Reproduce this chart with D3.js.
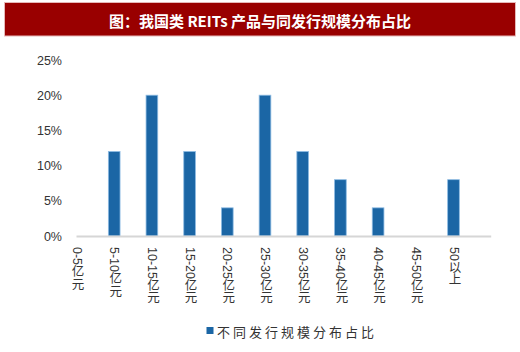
<!DOCTYPE html>
<html>
<head>
<meta charset="utf-8">
<script src="https://cdn.jsdelivr.net/npm/d3@7"></script>
<style>
  body { margin: 0; background: #fff; }
  svg { display: block; }
</style>
</head>
<body>
<svg></svg>
<script>
// chart data
const categories = ['0-5亿元', '5-10亿元', '10-15亿元', '15-20亿元', '20-25亿元', '25-30亿元',
    '30-35亿元', '35-40亿元', '40-45亿元', '45-50亿元', '50以上']
const shares = [0, 12, 20, 12, 4, 20, 12, 8, 4, 0, 8]
const yTicks = [0, 5, 10, 15, 20, 25]
const seriesName = '不同发行规模分布占比'
const titleText = '图：我国类 REITs 产品与同发行规模分布占比'

// Canvas setup
let width = 520
let height = 352
let svg = d3.select('svg')
    .attr('width', width)
    .attr('height', height)

let font = 'Liberation Sans, Arial, "Noto Sans CJK SC", sans-serif'

// Title banner
svg.append('rect')
    .attr('x', 4.5)
    .attr('y', 2.5)
    .attr('width', 511)
    .attr('height', 33.5)
    .attr('fill', '#990000')
    .attr('stroke', '#e6b8b8')
    .attr('stroke-width', 1)

svg.append('text')
    .attr('x', 260)
    .attr('y', 20)
    .attr('text-anchor', 'middle')
    .attr('dominant-baseline', 'central')
    .attr('fill', '#fff')
    .attr('font-family', '"Noto Sans CJK SC", sans-serif')
    .attr('font-weight', 'bold')
    .attr('font-size', 15)
    .text(titleText)

// Define scales
let step = 37.7
let firstCenter = 76.5
let xScale = d3.scaleBand()
    .domain(categories)
    .range([firstCenter - step / 2, firstCenter - step / 2 + step * categories.length])
    .paddingInner(0.69)
    .paddingOuter(0.345)

let yScale = d3.scaleLinear()
    .domain([0, 25])
    .range([236, 60])

// y axis labels
let yAxis = d3.axisLeft(yScale)
    .tickValues(yTicks)
    .tickSize(0)
    .tickPadding(0)
    .tickFormat((d) => d + '%')

svg.append('g')
    .attr('id', 'y-axis')
    .attr('transform', 'translate(62,0)')
    .call(yAxis)
    .call((g) => g.select('.domain').remove())
    .selectAll('text')
    .attr('font-family', font)
    .attr('font-size', 12.5)
    .attr('fill', '#333')

//Create bars for chart
svg.selectAll('rect.bar')
    .data(shares)
    .enter()
    .append('rect')
    .attr('class', 'bar')
    .attr('x', (d, i) => xScale(categories[i]))
    .attr('width', xScale.bandwidth())
    .attr('y', (d) => yScale(d))
    .attr('height', (d) => yScale(0) - yScale(d))
    .attr('fill', (d) => d > 0 ? '#1b66a5' : 'none')
    .attr('stroke', (d) => d > 0 ? '#8dbbe3' : 'none')
    .attr('stroke-width', 0.8)

// category axis line
let xAxisEnd = xScale(categories[categories.length - 1]) + xScale.bandwidth() / 2 + step
svg.append('line')
    .attr('x1', xScale(categories[0]) + xScale.bandwidth() / 2)
    .attr('x2', xAxisEnd)
    .attr('y1', yScale(0) + 0.5)
    .attr('y2', yScale(0) + 0.5)
    .attr('stroke', '#d6d6d6')
    .attr('stroke-width', 1.8)

// vertical category labels
svg.append('g')
    .attr('id', 'x-axis')
    .selectAll('text')
    .data(categories)
    .enter()
    .append('text')
    .attr('x', (d) => xScale(d) + xScale.bandwidth() / 2)
    .attr('y', 247)
    .attr('writing-mode', 'vertical-rl')
    .style('writing-mode', 'vertical-rl')
    .attr('font-family', font)
    .attr('font-size', 12.5)
    .attr('fill', '#333')
    .text((d) => d)

// legend
svg.append('rect')
    .attr('x', 206.5)
    .attr('y', 327)
    .attr('width', 7)
    .attr('height', 7)
    .attr('fill', '#1b66a5')

svg.append('text')
    .attr('x', 217)
    .attr('y', 331)
    .attr('dominant-baseline', 'central')
    .attr('font-family', '"Noto Sans CJK SC", sans-serif')
    .attr('font-size', 13)
    .attr('letter-spacing', 3)
    .attr('fill', '#333')
    .text(seriesName)
</script>
</body>
</html>
